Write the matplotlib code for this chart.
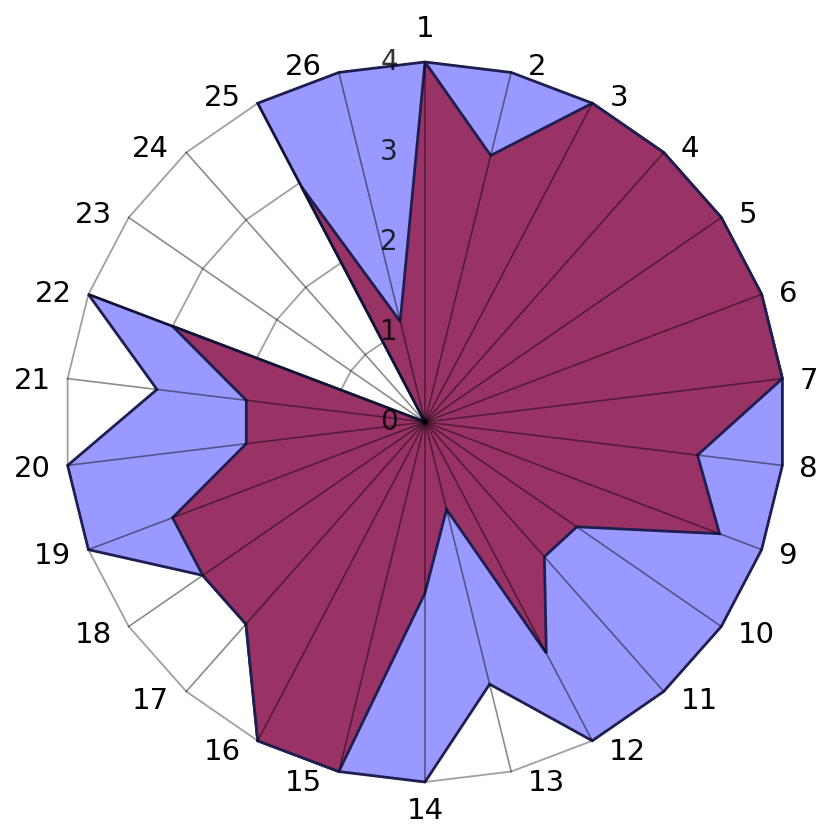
import numpy as np
import matplotlib
matplotlib.use('Agg')
import matplotlib.pyplot as plt

plt.rcParams.update({
    'font.family': 'DejaVu Sans',
    'axes.linewidth': 0,
})

# data
categories = [str(i) for i in range(1, 27)]
series_blue = [4, 4, 4, 4, 4, 4, 4, 4, 4, 4, 4, 4, 3, 4, 4, 4, 3, 3, 4, 4, 3, 4, 0, 0, 4, 4]
series_maroon = [4, 3.05, 4, 4, 4, 4, 4, 3.05, 3.5, 2.05, 2.0, 2.9, 1.0, 1.9,
                 4, 4, 3.0, 3.0, 3.0, 2.0, 2.0, 3.0, 0, 0, 2.95, 1.15]
r_ticks = [0, 1, 2, 3, 4]

n = len(categories)
theta = np.arange(n) * 2 * np.pi / n
theta_c = np.append(theta, theta[0])


def closed(vals):
    return np.append(vals, vals[0])


fig = plt.figure(figsize=(8.18, 8.25), dpi=100)
ax = fig.add_axes([65 / 818, 43 / 825, 720 / 818, 720 / 825], projection='polar')
ax.set_theta_zero_location('N')
ax.set_theta_direction(-1)
ax.set_ylim(0, 4)
ax.grid(False)
ax.set_xticks([])
ax.set_yticks([])
ax.spines['polar'].set_visible(False)
ax.patch.set_facecolor('white')

# polygon gridlines (under the fills)
for r in r_ticks[1:]:
    ax.plot(theta_c, [r] * (n + 1), color='#a0a0a0', lw=1.3, zorder=1, clip_on=False)

# series
ax.fill(theta_c, closed(series_blue), facecolor='#9999ff', edgecolor='#1e1e50',
        lw=2.0, zorder=2, clip_on=False)
ax.fill(theta_c, closed(series_maroon), facecolor='#993366', edgecolor='#1e1e50',
        lw=2.0, zorder=3, clip_on=False)

# spokes on top
for t in theta:
    ax.plot([t, t], [0, 4], color='black', alpha=0.45, lw=1.2, zorder=4, clip_on=False)

# radial labels
for v in r_ticks:
    ax.annotate(str(v), xy=(0, v), xytext=(-36, 0), textcoords='offset pixels',
                ha='center', va='center', fontsize=20, color='black', alpha=0.8,
                zorder=5, annotation_clip=False)

# category labels
for t, lab in zip(theta, categories):
    s, c = np.sin(t), np.cos(t)
    if abs(s) < 1e-6:
        if c > 0:
            ax.annotate(lab, xy=(t, 4), xytext=(0, 19), textcoords='offset pixels',
                        ha='center', va='bottom', fontsize=21, annotation_clip=False)
        else:
            ax.annotate(lab, xy=(t, 4), xytext=(0, -15), textcoords='offset pixels',
                        ha='center', va='top', fontsize=21, annotation_clip=False)
    else:
        ha = 'left' if s > 0 else 'right'
        ax.annotate(lab, xy=(t, 4), xytext=(17 * np.sign(s), 9 * c),
                    textcoords='offset pixels', ha=ha, va='center_baseline',
                    fontsize=21, annotation_clip=False)

fig.savefig('out.png', dpi=100, facecolor='white')
